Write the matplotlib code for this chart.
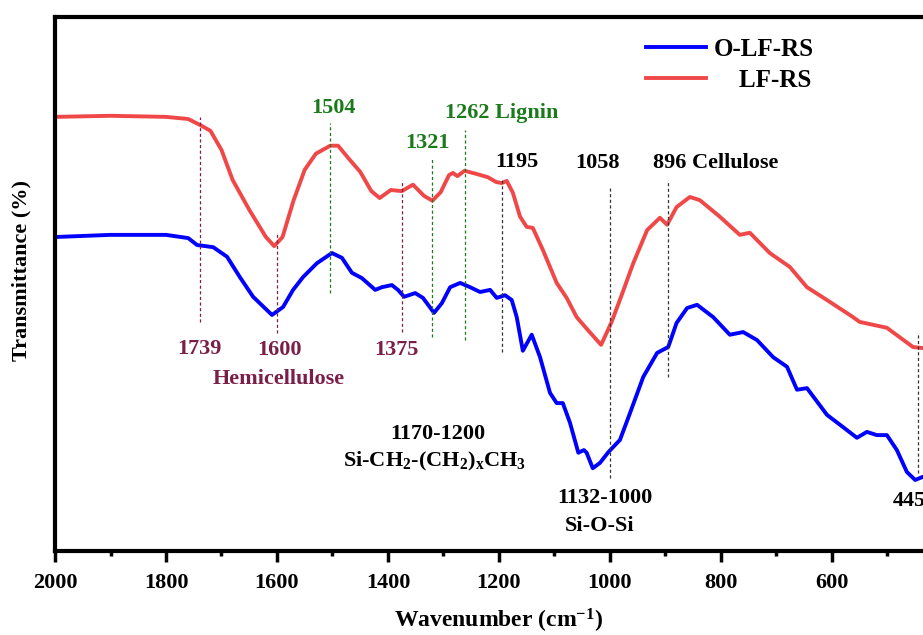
import matplotlib
matplotlib.use("Agg")
import matplotlib.pyplot as plt
from matplotlib.ticker import MultipleLocator, FuncFormatter

plt.rcParams["font.family"] = ["Liberation Serif", "DejaVu Serif"]
plt.rcParams["font.weight"] = "bold"
plt.rcParams["mathtext.fontset"] = "custom"
plt.rcParams["mathtext.rm"] = "Liberation Serif:bold"
plt.rcParams["mathtext.it"] = "Liberation Serif:bold"
plt.rcParams["mathtext.bf"] = "Liberation Serif:bold"

# ---------------------------
# Spectra (wavenumber in cm-1, transmittance in arbitrary %)
# ---------------------------
lfrs_wn = [2000, 1900, 1800, 1760, 1739, 1720, 1700, 1680, 1650, 1620, 1605,
           1590, 1570, 1550, 1530, 1504, 1490, 1470, 1450, 1430, 1415, 1395,
           1375, 1355, 1335, 1320, 1305, 1290, 1283, 1275, 1262, 1240, 1220,
           1205, 1195, 1186, 1175, 1162, 1150, 1139, 1121, 1096, 1078, 1060,
           1040, 1016, 997, 979, 958, 933, 910, 897, 880, 856, 838, 802, 766,
           748, 712, 676, 645, 609, 562, 550, 501, 454, 436, 400]
lfrs_t = [81.3, 81.5, 81.3, 80.9, 79.8, 78.7, 75.1, 69.5, 63.9, 58.8, 57.1,
          58.8, 65.7, 71.4, 74.4, 75.9, 75.9, 73.4, 71.0, 67.4, 66.1, 67.6,
          67.4, 68.6, 66.5, 65.6, 67.2, 70.4, 70.8, 70.2, 71.2, 70.6, 70.0,
          69.1, 68.9, 69.3, 67.1, 62.6, 60.7, 60.5, 56.4, 50.2, 47.4, 43.8,
          41.4, 38.6, 42.9, 47.9, 53.9, 60.1, 62.4, 61.1, 64.4, 66.3, 65.7,
          62.6, 59.2, 59.6, 55.8, 53.2, 49.4, 47.0, 43.8, 42.9, 41.8, 38.2,
          38.0, 37.6]

olfrs_wn = [2000, 1900, 1800, 1760, 1744, 1715, 1690, 1667, 1643, 1618, 1609,
            1589, 1571, 1553, 1528, 1501, 1483, 1465, 1447, 1423, 1411, 1393,
            1382, 1371, 1351, 1337, 1317, 1303, 1288, 1270, 1252, 1234, 1216,
            1204, 1189, 1177, 1168, 1157, 1141, 1126, 1108, 1096, 1085, 1072,
            1057, 1047, 1042, 1031, 1018, 1003, 982, 964, 940, 915, 895, 880,
            861, 843, 814, 784, 760, 735, 706, 681, 663, 645, 609, 580, 555,
            537, 519, 501, 483, 465, 450, 436, 400]
olfrs_t = [58.8, 59.2, 59.2, 58.6, 57.3, 56.9, 55.1, 51.3, 47.6, 45.1, 44.2,
           45.7, 48.9, 51.3, 53.9, 55.8, 54.9, 52.1, 51.1, 48.9, 49.4, 49.8,
           48.9, 47.6, 48.3, 47.4, 44.6, 46.4, 49.4, 50.2, 49.4, 48.5, 48.9,
           47.4, 47.9, 47.0, 43.8, 37.5, 40.5, 36.3, 29.6, 27.7, 27.7, 24.0,
           18.4, 18.9, 18.4, 15.5, 16.5, 18.5, 20.8, 25.8, 32.6, 37.1, 38.2,
           42.7, 45.5, 46.1, 43.8, 40.5, 41.0, 39.5, 36.3, 34.5, 30.2, 30.5,
           25.5, 23.2, 21.2, 22.3, 21.7, 21.7, 18.9, 14.8, 13.3, 13.9, 13.3]

# Band markers: position, line top, line bottom, colour group
band_pos = [1739, 1600, 1375, 1504, 1321, 1262, 1195, 1000, 896, 445]
band_top = [81.3, 59.6, 69.5, 80.1, 73.8, 78.8, 69.5, 68.0, 69.5, 40.8]
band_bot = [42.9, 40.8, 41.0, 48.3, 40.1, 39.5, 37.3, 13.7, 32.6, 14.6]
band_group = ["hemi", "hemi", "hemi", "lig", "lig", "lig", "k", "k", "k", "k"]

MAROON = "#7a1f48"
GREEN = "#1b7a1b"
group_colors = {"hemi": MAROON, "lig": GREEN, "k": "#333333"}

fig = plt.figure(figsize=(9.23, 6.35), dpi=100)
ax = fig.add_axes([0.0596, 0.1323, 0.962, 0.8409])

ax.plot(olfrs_wn, olfrs_t, color="#0000ff", lw=2.8, label="O-LF-RS")
ax.plot(lfrs_wn, lfrs_t, color="#f04848", lw=2.8, label="    LF-RS")

for pos, top, bot, grp in zip(band_pos, band_top, band_bot, band_group):
    ax.plot([pos, pos], [bot, top], color=group_colors[grp], lw=0.9,
            linestyle=(0, (2.5, 2)))

# Peak labels
fs = 16
ax.text(1739, 37.8, "1739", color=MAROON, fontsize=fs, ha="center", va="center")
ax.text(1596, 37.6, "1600", color=MAROON, fontsize=fs, ha="center", va="center")
ax.text(1385, 37.6, "1375", color=MAROON, fontsize=fs, ha="center", va="center")
ax.text(1597, 32.2, "Hemicellulose", color=MAROON, fontsize=fs, ha="center", va="center")
ax.text(1499, 83.0, "1504", color=GREEN, fontsize=fs, ha="center", va="center")
ax.text(1329, 76.4, "1321", color=GREEN, fontsize=fs, ha="center", va="center")
ax.text(1297, 82.0, "1262 Lignin", color=GREEN, fontsize=fs, ha="left", va="center")
ax.text(1168, 72.8, "1195", color="black", fontsize=fs, ha="center", va="center")
ax.text(1023, 72.6, "1058", color="black", fontsize=fs, ha="center", va="center")
ax.text(922, 72.6, "896 Cellulose", color="black", fontsize=fs, ha="left", va="center")
ax.text(1311, 21.9, "1170-1200", color="black", fontsize=fs, ha="center", va="center")
ax.text(1316, 16.7, r"Si-CH$_2$-(CH$_2$)$_\mathrm{x}$CH$_3$", color="black",
        fontsize=fs, ha="center", va="center")
ax.text(1010, 10.0, "1132-1000", color="black", fontsize=fs, ha="center", va="center")
ax.text(1019, 4.7, "Si-O-Si", color="black", fontsize=fs, ha="center", va="center")
ax.text(490, 9.3, "445", color="black", fontsize=fs, ha="left", va="center")

ax.set_xlim(2000, 400)
ax.set_ylim(0, 100)
ax.xaxis.set_major_locator(MultipleLocator(200))
ax.xaxis.set_minor_locator(MultipleLocator(100))
# the 400 label would sit past the right edge of the figure
ax.xaxis.set_major_formatter(FuncFormatter(lambda v, _: f"{v:.0f}" if v >= 500 else ""))
ax.set_yticks([])
ax.tick_params(axis="x", which="major", direction="out", length=8, width=2.5,
               labelsize=16, pad=8, top=False)
ax.tick_params(axis="x", which="minor", direction="out", length=3.5, width=2.5, top=False)
for lab in ax.get_xticklabels():
    lab.set_fontweight("bold")
for side in ["left", "bottom", "top", "right"]:
    ax.spines[side].set_linewidth(3)

ax.set_xlabel("Wavenumber (cm$^{-1}$)", fontsize=17, fontweight="bold", labelpad=10)
ax.set_ylabel("Transmittance (%)", fontsize=16, fontweight="bold")
ax.yaxis.set_label_coords(-0.026, 0.526)

ax.legend(loc="upper left", bbox_to_anchor=(0.676, 0.976), bbox_transform=fig.transFigure,
          frameon=False, fontsize=18, handlelength=2.4, handletextpad=0.3,
          labelspacing=0.34)

fig.savefig("out.png", dpi=100)
